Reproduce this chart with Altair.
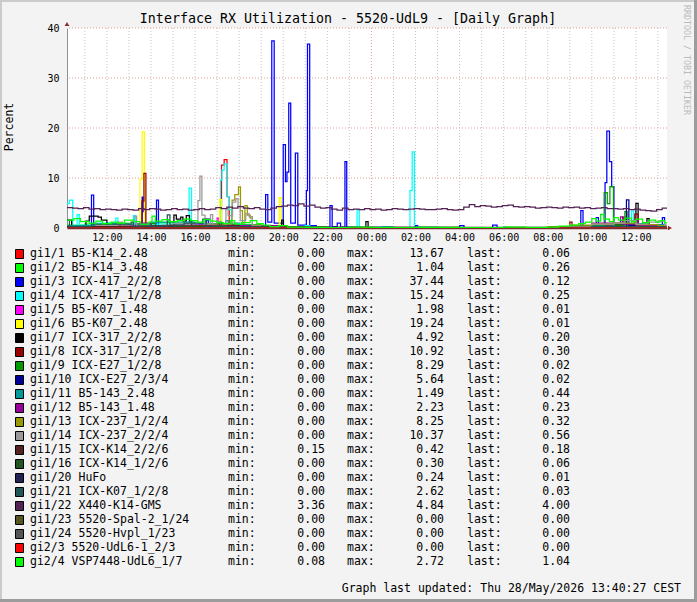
import altair as alt
import pandas as pd

# ---------------- data ----------------
T0, T1 = 10.19, 37.41          # hours since 00:00 of 27/May (10:11 .. 13:25 next day)
HOUR_GRID = list(range(11, 38))
HOUR_LABELS = list(range(12, 37, 2))
Y_TICKS = [0, 10, 20, 30, 40]
Y_GRID = [10, 20, 30, 40]

NAMES = ["gi1/1 B5-K14_2.48", "gi1/2 B5-K14_3.48", "gi1/3 ICX-417_2/2/8", "gi1/4 ICX-417_1/2/8",
         "gi1/5 B5-K07_1.48", "gi1/6 B5-K07_2.48", "gi1/7 ICX-317_2/2/8", "gi1/8 ICX-317_1/2/8",
         "gi1/9 ICX-E27_1/2/8", "gi1/10 ICX-E27_2/3/4", "gi1/11 B5-143_2.48", "gi1/12 B5-143_1.48",
         "gi1/13 ICX-237_1/2/4", "gi1/14 ICX-237_2/2/4", "gi1/15 ICX-K14_2/2/6", "gi1/16 ICX-K14_1/2/6",
         "gi1/20 HuFo", "gi1/21 ICX-K07_1/2/8", "gi1/22 X440-K14-GMS", "gi1/23 5520-Spal-2_1/24",
         "gi1/24 5520-Hvpl_1/23", "gi2/3 5520-UdL6-1_2/3", "gi2/4 VSP7448-UdL6_1/7"]
COLORS = ["#FF0000", "#00FF00", "#0000FF", "#00FFFF", "#FF00FF", "#FFFF00", "#000000", "#990000",
          "#009900", "#000099", "#009999", "#990099", "#999900", "#999999", "#552222", "#225522",
          "#222255", "#225555", "#552255", "#555522", "#555555", "#FF0000", "#00FF00"]
MINS = [0.00, 0.00, 0.00, 0.00, 0.00, 0.00, 0.00, 0.00, 0.00, 0.00, 0.00, 0.00,
        0.00, 0.00, 0.15, 0.00, 0.00, 0.00, 3.36, 0.00, 0.00, 0.00, 0.08]
MAXS = [13.67, 1.04, 37.44, 15.24, 1.98, 19.24, 4.92, 10.92, 8.29, 5.64, 1.49, 2.23,
        8.25, 10.37, 0.42, 0.30, 0.24, 2.62, 4.84, 0.00, 0.00, 0.00, 2.72]
LASTS = [0.06, 0.26, 0.12, 0.25, 0.01, 0.01, 0.20, 0.30, 0.02, 0.02, 0.44, 0.23,
         0.32, 0.56, 0.18, 0.06, 0.01, 0.03, 4.00, 0.00, 0.00, 0.00, 1.04]

# step series: (hour, value) breakpoints, value held until next breakpoint
S_RED = [(10.19, 0.3), (11.0, 0.2), (12.0, 0.4), (13.0, 0.3), (14.0, 0.5), (15.0, 0.3), (16.0, 0.4),
         (17.0, 0.5), (17.2, 12.6), (17.32, 13.67), (17.45, 6.3), (17.55, 1.0), (18.0, 0.4), (19.0, 0.2),
         (20.0, 0.05), (33.0, 0.3), (34.0, 0.6), (35.4, 1.9), (35.5, 0.8), (36.0, 0.5), (37.0, 0.2),
         (37.3, 0.06), (37.41, 0.06)]
S_LIME1 = [(10.19, 0.6), (11.0, 0.8), (12.0, 1.0), (13.0, 0.7), (14.0, 1.04), (15.0, 0.8), (16.0, 0.9),
           (17.0, 0.6), (18.0, 0.7), (19.0, 0.4), (20.0, 0.2), (22.0, 0.1), (30.0, 0.15), (32.0, 0.3),
           (33.0, 0.5), (34.0, 0.7), (35.0, 0.9), (36.0, 0.6), (37.0, 0.5), (37.3, 0.26), (37.41, 0.26)]
S_BLUE = [(10.19, 0.1), (11.3, 6.6), (11.4, 0.2), (13.6, 6.2), (13.65, 3.3), (13.72, 0.2), (14.25, 5.6),
          (14.34, 0.2), (16.5, 1.6), (16.6, 0.3), (19.2, 6.7), (19.3, 1.2), (19.48, 37.44), (19.59, 1.0),
          (20.0, 16.7), (20.1, 9.3), (20.17, 11.2), (20.25, 25.0), (20.34, 1.0), (20.55, 15.0), (20.66, 0.6),
          (21.05, 7.5), (21.1, 36.8), (21.2, 0.5), (21.5, 0.2), (22.12, 4.5), (22.22, 0.3), (22.45, 1.0),
          (22.6, 0.2), (22.8, 13.3), (22.88, 0.2), (23.5, 0.1), (26.0, 0.5), (26.1, 0.1), (28.0, 0.5),
          (28.2, 0.1), (29.5, 0.6), (29.7, 0.1), (33.5, 3.5), (33.6, 0.3), (34.2, 2.1), (34.3, 0.5),
          (34.6, 9.1), (34.68, 19.4), (34.8, 13.3), (34.9, 8.3), (35.0, 0.5), (35.3, 1.5), (35.4, 0.4),
          (37.2, 2.1), (37.3, 0.12), (37.41, 0.12)]
S_CYAN = [(10.19, 4.9), (10.3, 5.6), (10.45, 0.5), (10.65, 2.7), (10.75, 0.6), (11.5, 1.0), (12.4, 2.0),
          (12.5, 0.4), (13.2, 2.5), (13.3, 0.5), (14.0, 0.8), (15.0, 0.6), (15.73, 8.0), (15.84, 0.8),
          (16.5, 0.5), (17.15, 9.6), (17.22, 11.6), (17.32, 12.8), (17.45, 6.3), (17.55, 3.7), (17.65, 1.0),
          (18.0, 0.5), (19.0, 0.3), (20.0, 0.2), (21.0, 0.5), (21.2, 0.2), (22.0, 0.1), (23.35, 3.7),
          (23.45, 0.2), (24.5, 0.3), (25.0, 0.1), (25.75, 7.5), (25.85, 15.24), (25.95, 0.2), (27.0, 0.1),
          (30.0, 0.3), (30.1, 0.1), (34.0, 0.4), (35.8, 3.4), (35.9, 0.4), (37.0, 0.25), (37.41, 0.25)]
S_MAGENTA = [(10.19, 0.3), (12.0, 0.5), (13.4, 0.9), (13.5, 0.3), (15.0, 0.6), (17.0, 1.98), (17.08, 0.4),
             (18.0, 0.3), (20.0, 0.05), (33.0, 0.3), (34.0, 0.8), (35.0, 1.0), (35.4, 0.4), (36.0, 0.7),
             (37.3, 0.01), (37.41, 0.01)]
S_YELLOW = [(10.19, 0.1), (13.5, 9.8), (13.6, 19.24), (13.7, 0.3), (14.0, 0.1), (17.12, 5.7), (17.2, 0.3),
            (19.82, 6.1), (19.91, 0.2), (20.5, 0.1), (32.0, 0.2), (33.0, 0.1), (37.3, 0.01), (37.41, 0.01)]
S_BLACK = [(10.19, 1.6), (10.4, 0.4), (11.05, 1.4), (11.2, 2.4), (11.6, 2.2), (11.75, 1.6), (12.0, 0.3),
           (13.0, 0.5), (14.0, 0.3), (15.04, 2.6), (15.15, 1.8), (15.35, 2.2), (15.45, 1.4), (15.6, 2.5),
           (15.75, 1.4), (15.85, 0.3), (17.0, 0.6), (18.0, 0.5), (19.93, 1.6), (20.01, 0.2), (21.0, 0.1),
           (23.75, 1.3), (23.85, 0.1), (33.0, 0.4), (34.0, 0.5), (35.0, 0.8), (36.0, 4.92), (36.1, 0.8),
           (36.5, 1.9), (36.6, 0.6), (37.3, 0.2), (37.41, 0.2)]
S_DARKRED = [(10.19, 0.1), (13.5, 0.3), (13.59, 5.4), (13.68, 10.92), (13.77, 0.2), (14.5, 0.2), (16.0, 0.4),
             (17.0, 0.3), (18.0, 0.2), (19.0, 0.1), (33.0, 1.2), (33.1, 0.3), (34.0, 0.5), (35.4, 2.2),
             (35.5, 0.8), (35.95, 2.8), (36.1, 0.5), (37.0, 0.4), (37.3, 0.3), (37.41, 0.3)]
S_GREEN = [(10.19, 0.2), (12.0, 0.4), (14.0, 0.9), (14.2, 0.3), (16.0, 0.3), (18.0, 0.2), (20.0, 0.05),
           (33.0, 0.2), (34.0, 0.5), (34.56, 7.1), (34.7, 4.9), (34.82, 8.29), (34.98, 0.6), (35.5, 3.3),
           (35.6, 0.4), (36.0, 0.3), (37.3, 0.02), (37.41, 0.02)]
S_NAVY = [(10.19, 0.1), (13.0, 0.3), (16.5, 1.8), (16.7, 0.2), (20.0, 0.05), (33.0, 0.2), (35.57, 5.64),
          (35.68, 0.5), (36.0, 0.3), (37.3, 0.02), (37.41, 0.02)]
S_TEAL = [(10.19, 0.5), (12.0, 0.8), (14.0, 1.2), (16.0, 0.9), (17.4, 1.49), (17.5, 0.6), (19.0, 0.3),
          (20.0, 0.05), (33.0, 0.4), (35.0, 0.9), (36.5, 0.7), (37.3, 0.44), (37.41, 0.44)]
S_PURPLE = [(10.19, 0.3), (12.0, 0.5), (13.5, 1.0), (14.0, 0.4), (16.0, 0.6), (18.0, 0.5), (20.0, 0.05),
            (33.0, 0.3), (34.0, 1.0), (35.3, 2.23), (35.4, 0.8), (36.0, 1.5), (36.1, 0.5), (37.3, 0.23),
            (37.41, 0.23)]
S_OLIVE = [(10.19, 0.2), (12.0, 0.4), (13.0, 0.3), (15.0, 0.5), (16.5, 0.8), (17.68, 5.6), (17.8, 6.7),
           (17.97, 8.25), (18.06, 3.5), (18.15, 1.0), (18.26, 4.5), (18.37, 2.6), (18.5, 2.0), (18.6, 0.6),
           (19.0, 0.3), (20.0, 0.1), (32.0, 0.3), (33.0, 0.6), (34.0, 0.8), (35.0, 1.0), (36.0, 0.7),
           (37.0, 0.5), (37.3, 0.32), (37.41, 0.32)]
S_GRAY = [(10.19, 0.3), (11.5, 0.5), (12.5, 1.2), (12.7, 0.4), (13.24, 2.4), (13.35, 0.4), (14.5, 0.6),
          (15.0, 0.9), (16.13, 5.5), (16.22, 10.37), (16.31, 2.6), (16.45, 0.8), (16.7, 2.7), (16.8, 0.5),
          (17.4, 3.9), (17.5, 2.5), (17.7, 5.2), (17.85, 5.9), (17.95, 4.3), (18.05, 1.5), (18.3, 2.9),
          (18.45, 2.3), (18.6, 0.4), (19.0, 0.2), (20.0, 0.05), (33.0, 0.3), (34.0, 0.8), (35.0, 1.0),
          (35.5, 1.5), (36.0, 0.8), (36.5, 1.2), (37.0, 1.4), (37.3, 0.56), (37.41, 0.56)]
S_BROWN = [(10.19, 0.3), (14.0, 0.42), (18.0, 0.25), (22.0, 0.2), (28.0, 0.15), (34.0, 0.3), (37.3, 0.18),
           (37.41, 0.18)]
S_DKGREEN = [(10.19, 0.1), (15.0, 0.3), (20.0, 0.05), (35.0, 0.2), (37.3, 0.06), (37.41, 0.06)]
S_DKNAVY = [(10.19, 0.05), (14.0, 0.24), (15.0, 0.05), (37.3, 0.01), (37.41, 0.01)]
S_DKTEAL = [(10.19, 1.6), (10.3, 0.3), (11.3, 0.8), (13.1, 1.2), (13.2, 0.4), (14.74, 2.62), (14.86, 0.6),
            (15.5, 1.0), (16.35, 1.8), (16.5, 0.4), (17.1, 1.2), (17.2, 0.3), (19.0, 0.2), (20.0, 0.05),
            (34.0, 0.3), (37.3, 0.03), (37.41, 0.03)]
# gi1/22: quarter-hour readings from 10:11
GMS_START, GMS_STEP = 10.19, 0.25
GMS_VALUES = [4.1, 4.0, 3.9, 4.1, 3.8, 3.9, 3.7,
              3.8, 3.7, 3.6, 3.8, 3.7, 3.6, 3.9, 3.7,
              3.9, 3.8, 3.6, 3.7, 3.9, 3.7, 3.8, 3.6,
              3.7, 3.9, 3.7, 3.8, 4.1, 3.9, 4.2, 4.0,
              4.3, 4.0, 3.9, 4.1, 3.8, 3.7, 4.0, 4.3,
              4.4, 4.6, 4.5, 4.84, 4.4, 4.6, 4.2, 4.0,
              4.1, 3.8, 3.6, 4.0, 3.7, 3.8, 3.7, 3.9,
              3.7, 3.8, 3.6, 3.7, 3.9, 3.8, 3.7, 3.8,
              3.9, 3.8, 3.7, 3.7, 3.8, 3.9, 3.7, 3.6,
              3.7, 4.2, 4.7, 4.3, 4.5, 4.4, 4.2, 4.3,
              4.5, 4.6, 4.3, 4.2, 4.3, 4.2, 4.0, 4.1,
              4.2, 4.1, 4.0, 4.2, 4.1, 4.2, 4.0, 4.1,
              3.9, 4.0, 4.1, 3.9, 3.9, 3.8, 3.9, 3.7,
              3.8, 3.6, 3.5, 3.36, 3.7, 4.0]
S_GMS = [(GMS_START + GMS_STEP * i, v) for i, v in enumerate(GMS_VALUES)] + [(T1, GMS_VALUES[-1])]
S_ZERO = [(T0, 0.0), (T1, 0.0)]
S_LIME2 = [(10.19, 1.6), (10.5, 1.9), (10.8, 1.3), (11.2, 1.0), (11.5, 1.4), (11.8, 0.9), (12.2, 1.2),
           (12.5, 1.0), (12.8, 1.6), (13.2, 1.3), (13.5, 0.8), (13.9, 1.2), (14.05, 2.4), (14.2, 1.4),
           (14.5, 1.7), (14.8, 1.3), (15.2, 1.5), (15.5, 1.8), (15.8, 1.5), (16.1, 1.2), (16.4, 1.7),
           (16.7, 1.4), (17.0, 1.1), (17.3, 0.9), (17.6, 1.5), (17.8, 0.8), (18.1, 1.1), (18.5, 1.5),
           (18.8, 0.9), (19.1, 0.6), (19.4, 0.3), (19.8, 0.5), (20.2, 0.2), (21.0, 0.15), (22.0, 0.1),
           (23.0, 0.2), (24.0, 0.1), (26.0, 0.15), (28.0, 0.1), (30.0, 0.2), (31.0, 0.08), (32.0, 0.2),
           (32.5, 0.4), (33.0, 0.6), (33.4, 0.9), (33.7, 1.2), (34.0, 1.9), (34.2, 1.4), (34.4, 2.72),
           (34.55, 1.8), (34.8, 1.3), (35.0, 2.1), (35.2, 1.6), (35.5, 2.0), (35.8, 1.3), (36.0, 1.8),
           (36.3, 1.1), (36.6, 1.6), (36.9, 1.2), (37.1, 1.5), (37.3, 1.04), (37.41, 1.04)]

SERIES = [S_RED, S_LIME1, S_BLUE, S_CYAN, S_MAGENTA, S_YELLOW, S_BLACK, S_DARKRED, S_GREEN, S_NAVY,
          S_TEAL, S_PURPLE, S_OLIVE, S_GRAY, S_BROWN, S_DKGREEN, S_DKNAVY, S_DKTEAL, S_GMS, S_ZERO,
          S_ZERO, S_ZERO, S_LIME2]

TITLE = "Interface RX Utilization - 5520-UdL9 - [Daily Graph]"
FOOTER = "Graph last updated: Thu 28/May/2026 13:40:27 CEST"
WATERMARK = "RRDTOOL / TOBI OETIKER"

# ---------------- layout (pixels relative to plot origin at 67,28) ----------------
W, H = 600, 200
PAD = {"left": 67, "top": 28, "right": 30, "bottom": 374}
FONT = "DejaVu Sans Mono"
ROW0, ROWSTEP = 226, 14

line_rows = [{"id": i, "t": t, "v": v} for i, pts in enumerate(SERIES) for t, v in pts]
lines_df = pd.DataFrame(line_rows)

legend_df = pd.DataFrame({
    "idx": list(range(len(NAMES))),
    "name": NAMES,
    "color": COLORS,
    "mn": [f"{v:.2f}" for v in MINS],
    "mx": [f"{v:.2f}" for v in MAXS],
    "ls": [f"{v:.2f}" for v in LASTS],
})

xscale = alt.Scale(domain=[T0, T1], nice=False, zero=False)
yscale = alt.Scale(domain=[0, 40], nice=False)

x_axis = alt.Axis(values=HOUR_LABELS, grid=False, ticks=False, labelPadding=4,
                  labelExpr="(datum.value % 24 < 10 ? '0' : '') + (datum.value % 24) + ':00'",
                  labelFont=FONT, labelFontSize=10, labelColor="#000000",
                  domainColor="#7F2A2A", domainWidth=1.5, title=None)
y_axis = alt.Axis(values=Y_TICKS, grid=False, ticks=False, labelPadding=8,
                  labelFont=FONT, labelFontSize=10, labelColor="#000000",
                  domainColor="#909090", domainWidth=1, title=None)

vgrid_df = pd.DataFrame({"h": HOUR_GRID, "major": [h == 24 for h in HOUR_GRID]})
hgrid_df = pd.DataFrame({"y": Y_GRID})

vgrid_minor = alt.Chart(vgrid_df).transform_filter("!datum.major").mark_rule(
    color="#C4C4C4", strokeDash=[1, 2], strokeWidth=1).encode(
    x=alt.X("h:Q", scale=xscale, axis=x_axis))
vgrid_major = alt.Chart(vgrid_df).transform_filter("datum.major").mark_rule(
    color="#E89A9A", strokeDash=[1, 2], strokeWidth=1).encode(
    x=alt.X("h:Q", scale=xscale, axis=x_axis))
hgrid = alt.Chart(hgrid_df).mark_rule(
    color="#E89A9A", strokeDash=[1, 2], strokeWidth=1).encode(
    y=alt.Y("y:Q", scale=yscale, axis=y_axis))

layers = [vgrid_minor, vgrid_major, hgrid]
for i in range(len(SERIES)):
    layers.append(
        alt.Chart(lines_df).transform_filter(f"datum.id == {i}").mark_line(
            interpolate="step-after", strokeWidth=1.25, color=COLORS[i], clip=True).encode(
            x=alt.X("t:Q", scale=xscale, axis=x_axis),
            y=alt.Y("v:Q", scale=yscale, axis=y_axis)))

one = pd.DataFrame({"k": [0]})

# arrows
arrow_up = alt.Chart(one).mark_point(shape="triangle-up", filled=True, size=22, color="#8A2A2A",
                                     opacity=1).encode(x=alt.value(0), y=alt.value(-4))
arrow_right = alt.Chart(one).mark_point(shape="triangle-right", filled=True, size=22, color="#8A2A2A",
                                        opacity=1).encode(x=alt.value(W + 3), y=alt.value(H))

# frame shading
def frame_rect(x1, x2, y1, y2, color):
    return alt.Chart(one).mark_rect(color=color).encode(
        x=alt.value(x1), x2=alt.value(x2), y=alt.value(y1), y2=alt.value(y2))

frames = [
    frame_rect(-67, 630, -28, -26, "#CBCBCB"),
    frame_rect(-67, -65, -28, 574, "#CBCBCB"),
    frame_rect(-67, 630, 571, 574, "#9C9C9C"),
    frame_rect(627, 630, -28, 574, "#9C9C9C"),
]

title = alt.Chart(one).mark_text(text=TITLE, font=FONT, fontSize=13.3, color="#000000",
                                 align="center", baseline="middle").encode(
    x=alt.value(281), y=alt.value(-9))
ytitle = alt.Chart(one).mark_text(text="Percent", font=FONT, fontSize=11.5, color="#000000",
                                  align="center", baseline="middle", angle=270).encode(
    x=alt.value(-57), y=alt.value(99))
wmark = alt.Chart(one).mark_text(text=WATERMARK, font=FONT, fontSize=8.3, color="#BBBBBB",
                                 align="left", baseline="middle", angle=90).encode(
    x=alt.value(619), y=alt.value(-23))
footer = alt.Chart(one).mark_text(text=FOOTER, font=FONT, fontSize=11.5, color="#000000",
                                  align="right", baseline="middle").encode(
    x=alt.value(614), y=alt.value(561))

leg_base = alt.Chart(legend_df).transform_calculate(
    ly=f"{ROW0} + {ROWSTEP} * datum.idx",
    ly1=f"{ROW0 - 4.5} + {ROWSTEP} * datum.idx",
    ly2=f"{ROW0 + 4.5} + {ROWSTEP} * datum.idx")

leg_box = leg_base.mark_rect(stroke="#000000", strokeWidth=1).encode(
    x=alt.value(-51.5), x2=alt.value(-43.5),
    y=alt.Y("ly1:Q", scale=None, axis=None), y2=alt.Y2("ly2:Q"),
    fill=alt.Fill("color:N", scale=None, legend=None))

def leg_text(field, xpos, align, const=None):
    kw = dict(font=FONT, fontSize=11.5, color="#000000", align=align, baseline="middle")
    if const is not None:
        m = leg_base.mark_text(text=const, **kw).encode(
            x=alt.value(xpos), y=alt.Y("ly:Q", scale=None, axis=None))
    else:
        m = leg_base.mark_text(**kw).encode(
            x=alt.value(xpos), y=alt.Y("ly:Q", scale=None, axis=None), text=f"{field}:N")
    return m

leg_layers = [
    leg_box,
    leg_text("name", -37, "left"),
    leg_text(None, 161, "left", "min:"),
    leg_text("mn", 258, "right"),
    leg_text(None, 280, "left", "max:"),
    leg_text("mx", 377, "right"),
    leg_text(None, 400, "left", "last:"),
    leg_text("ls", 503, "right"),
]

chart = alt.layer(*layers, arrow_up, arrow_right, title, ytitle, wmark, footer, *leg_layers, *frames).properties(
    width=W, height=H, padding=PAD, background="#F3F3F3",
    autosize=alt.AutoSizeParams(type="none"),
).configure_view(fill="#FFFFFF", strokeWidth=0)

chart.save("out.html", embed_options={"renderer": "svg", "actions": False})
